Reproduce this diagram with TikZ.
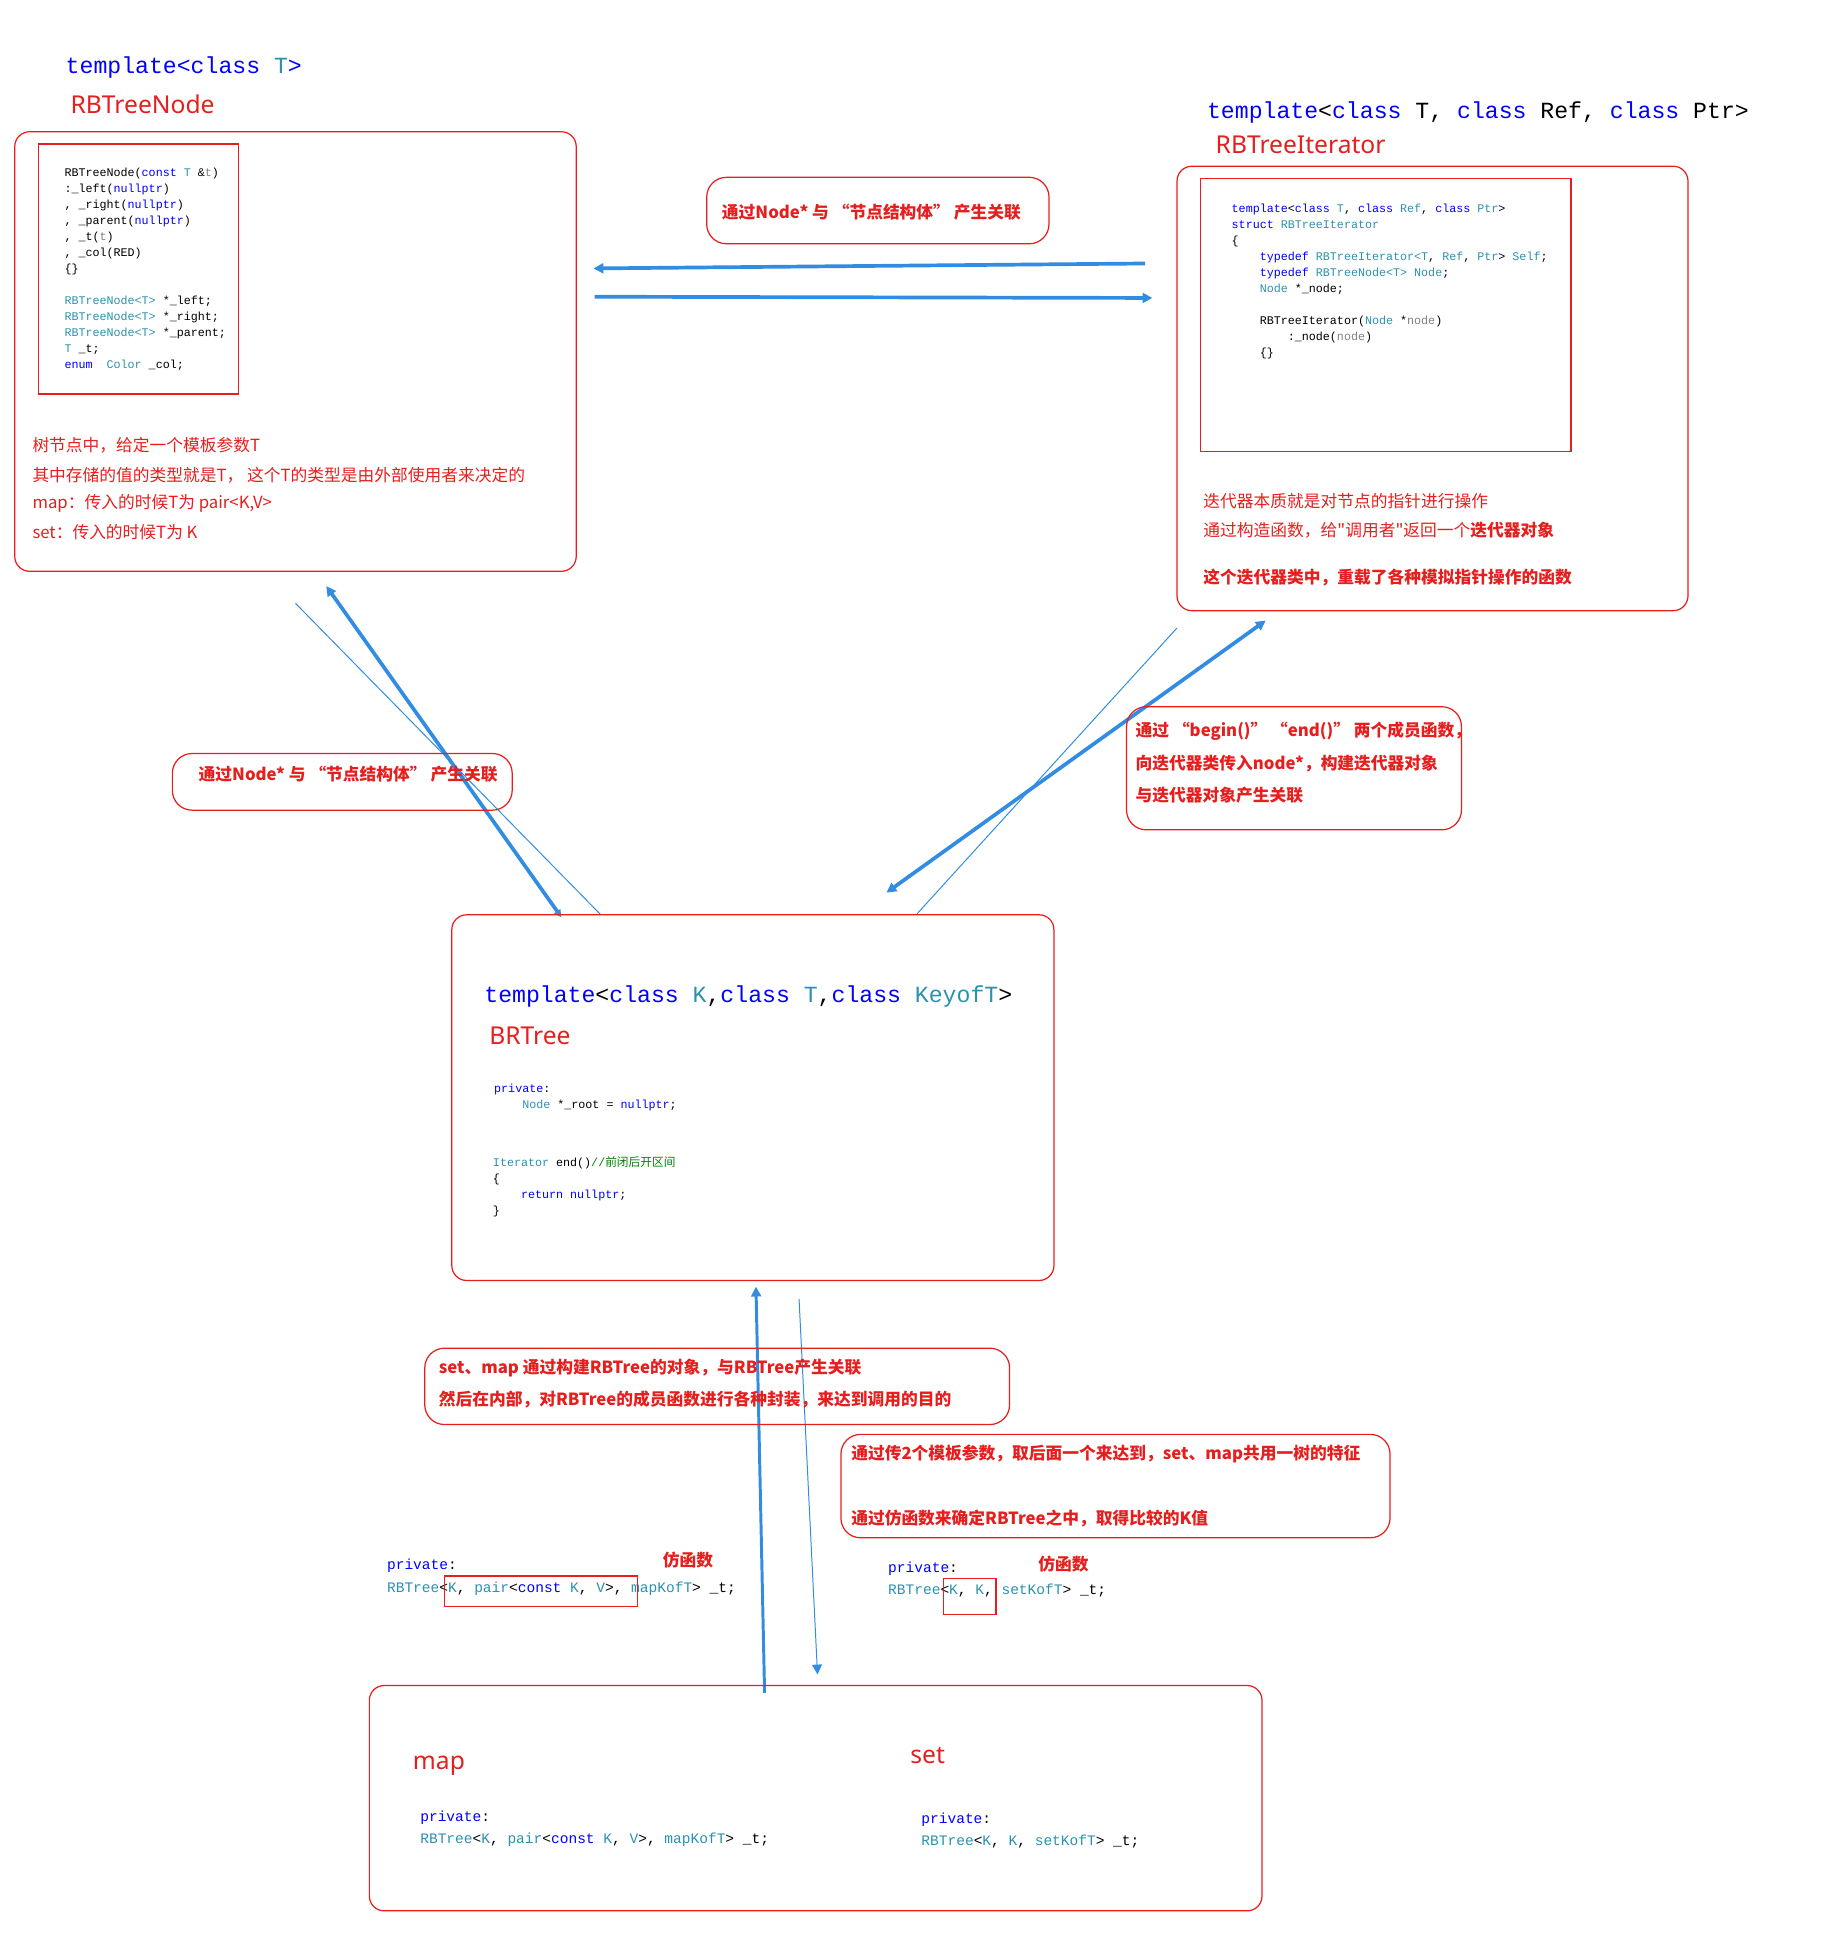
\documentclass[tikz,border=0pt]{standalone}
\usepackage{fontspec}
\setmonofont{Liberation Mono}
\setmainfont{Noto Sans}
\newfontfamily\cjk{Noto Sans CJK SC}
\usetikzlibrary{arrows.meta, positioning}
\definecolor{kwblue}{RGB}{0,0,255}
\definecolor{tyteal}{RGB}{43,145,175}
\definecolor{pagray}{RGB}{128,128,128}
\definecolor{cmgreen}{RGB}{0,128,0}
\definecolor{boxred}{RGB}{230,30,30}
\definecolor{arrblue}{RGB}{50,140,225}
\newcommand{\kw}[1]{\textcolor{kwblue}{#1}}
\newcommand{\ty}[1]{\textcolor{tyteal}{#1}}
\newcommand{\pa}[1]{\textcolor{pagray}{#1}}
\newcommand{\ind}{\hspace*{4\fontcharwd\font`x}}
\tikzset{
  outerbox/.style={draw=boxred, rounded corners=6pt, line width=0.5pt},
  innerbox/.style={draw=boxred, line width=0.5pt},
  labelbox/.style={draw=boxred, rounded corners=8pt, line width=0.5pt},
  codesmall/.style={anchor=north west, inner sep=0pt, align=left,
    font=\ttfamily\fontsize{4.75}{6.5}\selectfont},
  codemid/.style={anchor=west, inner sep=0pt, align=left,
    font=\ttfamily\fontsize{5.9}{9}\selectfont},
  codebig/.style={anchor=west, inner sep=0pt, font=\ttfamily\fontsize{9.4}{11}\selectfont},
  title/.style={anchor=west, inner sep=0pt, text=boxred, font=\fontsize{10}{12}\selectfont},
  note/.style={anchor=west, inner sep=0pt, text=boxred, font=\cjk\fontsize{6.8}{8}\selectfont},
  notebold/.style={note, font=\cjk\bfseries\fontsize{6.8}{8}\selectfont},
  thickarrow/.style={draw=arrblue, line width=1.5pt, -{Triangle[length=4pt,width=4pt]}},
  thinline/.style={draw=arrblue, line width=0.4pt},
}
\begin{document}
\begin{tikzpicture}[x=0.5pt, y=-0.5pt]
\useasboundingbox (0,0) rectangle (1500,1570);

% RBTreeNode
\node[codebig, text=kwblue] (nodetpl) at (53,55) {template<class \ty{T}>};
\node[title] (nodename) at (57,85) {RBTreeNode};
\draw[outerbox] (12,107) rectangle (468,464);
\draw[innerbox] (31,117) rectangle (194,320);
\node[codesmall] (nodecode) at (52,136) {RBTreeNode(\kw{const} \ty{T} \&\pa{t})\\
:\_left(\kw{nullptr})\\
, \_right(\kw{nullptr})\\
, \_parent(\kw{nullptr})\\
, \_t(\pa{t})\\
, \_col(RED)\\
\{\}\\
~\\
\ty{RBTreeNode<T>} *\_left;\\
\ty{RBTreeNode<T>} *\_right;\\
\ty{RBTreeNode<T>} *\_parent;\\
\ty{T} \_t;\\
\kw{enum}~~\ty{Color} \_col;};
\node[note] (nodenote1) at (26,362) {树节点中，给定一个模板参数T};
\node[note] (nodenote2) at (26,386) {其中存储的值的类型就是T，  这个T的类型是由外部使用者来决定的};
\node[note] (nodenote3) at (26,409) {map：传入的时候T为 pair<K,V>};
\node[note] (nodenote4) at (26,432) {set：传入的时候T为 K};

% RBTreeIterator
\node[codebig] (itertpl) at (980,91) {\kw{template}<\kw{class} T, \kw{class} Ref, \kw{class} Ptr>};
\node[title] (itername) at (987,118) {RBTreeIterator};
\draw[outerbox] (956,135) rectangle (1371,496);
\draw[innerbox] (975,145) rectangle (1276,367);
\node[codesmall] (itercode) at (1000,165) {\kw{template}<\kw{class} \ty{T}, \kw{class} \ty{Ref}, \kw{class} \ty{Ptr}>\\
\kw{struct} \ty{RBTreeIterator}\\
\{\\
\ind\kw{typedef} \ty{RBTreeIterator<T}, \ty{Ref}, \ty{Ptr}> \ty{Self};\\
\ind\kw{typedef} \ty{RBTreeNode<T>} \ty{Node};\\
\ind\ty{Node} *\_node;\\
~\\
\ind RBTreeIterator(\ty{Node} *\pa{node})\\
\ind\ind :\_node(\pa{node})\\
\ind\{\}};
\node[note] (iternote1) at (977,407) {迭代器本质就是对节点的指针进行操作};
\node[note] (iternote2) at (977,431) {通过构造函数，给"调用者"返回一个\textbf{迭代器对象}};
\node[notebold] (iternote3) at (977,469) {这个迭代器类中，重载了各种模拟指针操作的函数};

% links between node and iterator
\draw[labelbox] (574,144) rectangle (852,198);
\node[notebold] (toplabel) at (586,172) {通过Node* 与 “节点结构体” 产生关联};
\coordinate (h1a) at (930,214); \coordinate (h1b) at (482,218);
\coordinate (h2a) at (483,241); \coordinate (h2b) at (936,242);
\draw[thickarrow] (h1a) -- (h1b);
\draw[thickarrow] (h2a) -- (h2b);

% left diagonal
\coordinate (l1a) at (240,490); \coordinate (l1b) at (488,743);
\coordinate (l2a) at (456,745); \coordinate (l2b) at (265,476);
\draw[thinline] (l1a) -- (l1b);
\draw[thickarrow, {Triangle[length=3pt,width=3pt]}-{Triangle[length=4pt,width=4pt]}] (l2a) -- (l2b);
\draw[labelbox] (140,612) rectangle (416,658);
\node[notebold] (leftlabel) at (161,629) {通过Node* 与 “节点结构体” 产生关联};

% right diagonal
\coordinate (r1a) at (1028,504); \coordinate (r1b) at (720,725);
\coordinate (r2a) at (956,510); \coordinate (r2b) at (745,742);
\draw[thickarrow, {Triangle[length=4pt,width=4pt]}-{Triangle[length=4pt,width=4pt]}] (r1a) -- (r1b);
\draw[thinline] (r2a) -- (r2b);
\draw[labelbox] (915,574) rectangle (1187,674);
\node[notebold] (rightlabel1) at (922,594) {通过 “begin()” “end()” 两个成员函数，};
\node[notebold] (rightlabel2) at (922,620) {向迭代器类传入node*，构建迭代器对象};
\node[notebold] (rightlabel3) at (922,646) {与迭代器对象产生关联};

% BRTree
\draw[outerbox] (367,743) rectangle (856,1040);
\node[codebig] (treetpl) at (393,809) {\kw{template}<\kw{class} \ty{K},\kw{class} \ty{T},\kw{class} \ty{KeyofT}>};
\node[title] (treename) at (397,841) {BRTree};
\node[codesmall] (treecode1) at (401,880) {\kw{private}:\\
\ind\ty{Node} *\_root = \kw{nullptr};};
\node[codesmall] (treecode2) at (400,939) {\ty{Iterator} end()\textcolor{cmgreen}{//{\cjk 前闭后开区间}}\\
\{\\
\ind\kw{return} \kw{nullptr};\\
\}};

% vertical links
\coordinate (v1a) at (621,1375); \coordinate (v1b) at (614,1045);
\coordinate (v2a) at (649,1055); \coordinate (v2b) at (664,1360);
\draw[thickarrow, line width=1.2pt] (v1a) -- (v1b);
\draw[thinline, -{Triangle[length=4pt,width=4pt]}] (v2a) -- (v2b);
\draw[labelbox] (345,1095) rectangle (820,1157);
\node[notebold] (midlabel1) at (356,1111) {set、map 通过构建RBTree的对象，与RBTree产生关联};
\node[notebold] (midlabel2) at (356,1137) {然后在内部，对RBTree的成员函数进行各种封装，来达到调用的目的};
\draw[labelbox] (683,1165) rectangle (1129,1249);
\node[notebold] (tpllabel1) at (691,1181) {通过传2个模板参数，取后面一个来达到，set、map共用一树的特征};
\node[notebold] (tpllabel2) at (691,1233) {通过仿函数来确定RBTree之中，取得比较的K值};

% map/set declarations
\node[codemid] (mapdecl) at (314,1281) {\kw{private}:\\
\ty{RBTree}<\ty{K}, \ty{pair}<\kw{const} \ty{K}, \ty{V}>, \ty{mapKofT}> \_t;};
\node[notebold] (mapfunctor) at (538,1267) {仿函数};
\draw[innerbox] (361,1280) rectangle (518,1305);
\node[codemid] (setdecl) at (721,1283) {\kw{private}:\\
\ty{RBTree}<\ty{K}, \ty{K}, \ty{setKofT}> \_t;};
\node[notebold] (setfunctor) at (843,1270) {仿函数};
\draw[innerbox] (766,1282) rectangle (809,1311);

% map and set
\draw[outerbox] (300,1369) rectangle (1025,1552);
\node[title] (mapname) at (335,1434) {map};
\node[title] (setname) at (739,1426) {set};
\node[codemid] (mapbody) at (341,1485) {\kw{private}:\\
\ty{RBTree}<\ty{K}, \ty{pair}<\kw{const} \ty{K}, \ty{V}>, \ty{mapKofT}> \_t;};
\node[codemid] (setbody) at (748,1487) {\kw{private}:\\
\ty{RBTree}<\ty{K}, \ty{K}, \ty{setKofT}> \_t;};
\end{tikzpicture}
\end{document}
